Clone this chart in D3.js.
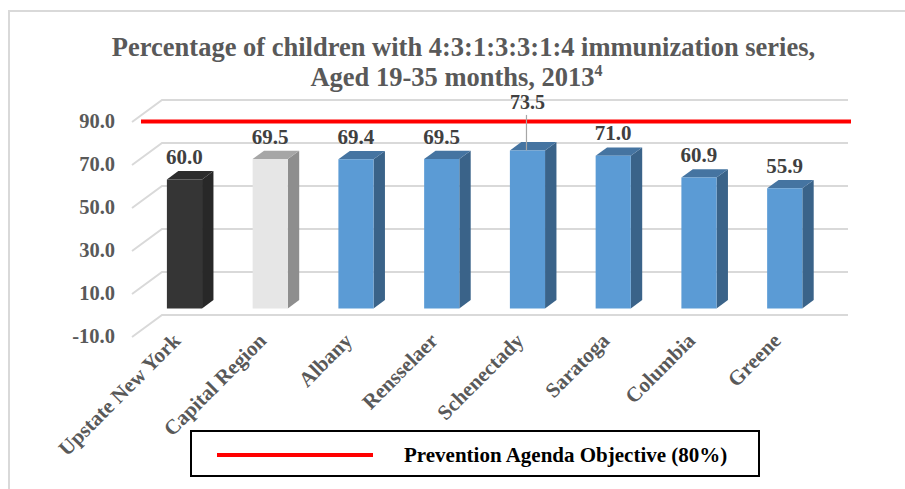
<!DOCTYPE html>
<html>
<head>
<meta charset="utf-8">
<script src="https://cdn.jsdelivr.net/npm/d3@7"></script>
<style>
  html, body { margin: 0; padding: 0; background: #ffffff; }
  svg { display: block; }
  text { font-family: "Liberation Serif", "Times New Roman", serif; font-weight: bold; }
</style>
</head>
<body>
<svg id="chart" width="905" height="489"></svg>
<script>
// Immunization coverage, children aged 19-35 months, 2013
const categories = ["Upstate New York", "Capital Region", "Albany", "Rensselaer",
                    "Schenectady", "Saratoga", "Columbia", "Greene"];
const values = [60.0, 69.5, 69.4, 69.5, 73.5, 71.0, 60.9, 55.9];
const objective = 80;
const yTicks = [-10, 10, 30, 50, 70, 90];
const objectiveLabel = "Prevention Agenda Objective (80%)";
const titleLines = ["Percentage of children with 4:3:1:3:3:1:4 immunization series,",
                    "Aged 19-35 months, 2013"];
const titleNote = "4";

const svg = d3.select("#chart");

// page frame around the figure
svg.append("path")
  .attr("d", "M905,11 H9 V489")
  .attr("fill", "none").attr("stroke", "#d9d9d9").attr("stroke-width", 2);

// --- 3D projection: back-wall value scale plus a depth offset vector ---
const DX = 30, DY = 22;                       // front plane is (-DX, +DY) from the back wall
const yBack = d3.scaleLinear().domain([-10, 90]).range([315, 100]);
const xFront = d3.scaleBand().domain(categories).range([132, 818]);
// depth d: 0 = front plane, 1 = back wall
const P = (x, v, d) => [x + d * DX, yBack(v) + (1 - d) * DY];

// gridlines: side-wall diagonal + back-wall horizontal
const grid = svg.append("g");
yTicks.forEach(v => {
  const a = P(132, v, 0), b = P(132, v, 1), c = P(818, v, 1);
  grid.append("path")
    .attr("d", `M${a[0]},${a[1]} L${b[0]},${b[1]} L${c[0]},${c[1]}`)
    .attr("fill", "none").attr("stroke", "#d9d9d9").attr("stroke-width", 2);
});

// value axis labels
svg.append("g").selectAll("text").data(yTicks).join("text")
  .attr("x", 115)
  .attr("y", v => P(132, v, 0)[1] + 1)
  .attr("text-anchor", "end")
  .attr("dominant-baseline", "middle")
  .attr("font-size", 20.5)
  .attr("fill", "#595959")
  .text(v => v.toFixed(1));

// bar colours per category: front, top, side
const palette = i => i === 0 ? ["#353535", "#2c2c2c", "#282828"]
                 : i === 1 ? ["#e6e6e6", "#a6a6a6", "#8e8e8e"]
                 : ["#5b9bd5", "#4574a1", "#3a6389"];

const d1 = 0.32, d2 = 0.70;
const barW = xFront.bandwidth() * 0.41;
const bars = svg.append("g");
const poly = pts => "M" + pts.map(p => p.join(",")).join("L") + "Z";

categories.forEach((c, i) => {
  const v = values[i];
  const xl = xFront(c) + (xFront.bandwidth() - barW) / 2;
  const xr = xl + barW;
  const [fc, tc, sc] = palette(i);
  const g = bars.append("g");
  g.append("path").attr("d", poly([P(xr, 0, d1), P(xr, 0, d2), P(xr, v, d2), P(xr, v, d1)])).attr("fill", sc);
  g.append("path").attr("d", poly([P(xl, v, d1), P(xr, v, d1), P(xr, v, d2), P(xl, v, d2)])).attr("fill", tc);
  g.append("path").attr("d", poly([P(xl, 0, d1), P(xr, 0, d1), P(xr, v, d1), P(xl, v, d1)])).attr("fill", fc);
});

// objective line on the back wall
svg.append("line")
  .attr("x1", 141).attr("x2", 851)
  .attr("y1", yBack(objective)).attr("y2", yBack(objective))
  .attr("stroke", "#ff0000").attr("stroke-width", 4);

// data labels (Schenectady's label is lifted with a leader line)
const lifted = { "Schenectady": 26 };
categories.forEach((c, i) => {
  const v = values[i];
  const cx = xFront(c) + xFront.bandwidth() / 2 + d1 * DX;
  const top = P(0, v, d1)[1];
  const lift = lifted[c] || 0;
  const base = top - 15.5 - lift;
  if (lift) {
    svg.append("line")
      .attr("x1", cx - 1).attr("x2", cx - 1)
      .attr("y1", base + 6).attr("y2", top)
      .attr("stroke", "#a6a6a6").attr("stroke-width", 1.2);
  }
  svg.append("text")
    .attr("x", cx).attr("y", base)
    .attr("text-anchor", "middle")
    .attr("font-size", lift ? 20 : 21)
    .attr("fill", "#404040")
    .text(v.toFixed(1));
});

// category labels, rotated
svg.append("g").selectAll("text").data(categories).join("text")
  .attr("transform", c => `translate(${xFront(c) + xFront.bandwidth() / 2 + 7},342) rotate(-45)`)
  .attr("text-anchor", "end")
  .attr("font-size", 21)
  .attr("fill", "#595959")
  .text(c => c);

// title
const title = svg.append("g").attr("fill", "#595959").attr("font-size", 26.5);
title.append("text").attr("x", 463.5).attr("y", 56).attr("text-anchor", "middle").text(titleLines[0]);
const t2 = title.append("text").attr("x", 456.5).attr("y", 86).attr("text-anchor", "middle");
t2.append("tspan").text(titleLines[1]);
t2.append("tspan").attr("font-size", 16).attr("dy", -10).text(titleNote);

// legend
const lg = svg.append("g");
lg.append("rect").attr("x", 191).attr("y", 431).attr("width", 568).attr("height", 45)
  .attr("fill", "#ffffff").attr("stroke", "#000000").attr("stroke-width", 2);
lg.append("line").attr("x1", 217).attr("x2", 373).attr("y1", 455).attr("y2", 455)
  .attr("stroke", "#ff0000").attr("stroke-width", 4);
lg.append("text").attr("x", 404).attr("y", 462).attr("font-size", 21).attr("fill", "#000000")
  .text(objectiveLabel);
</script>
</body>
</html>
